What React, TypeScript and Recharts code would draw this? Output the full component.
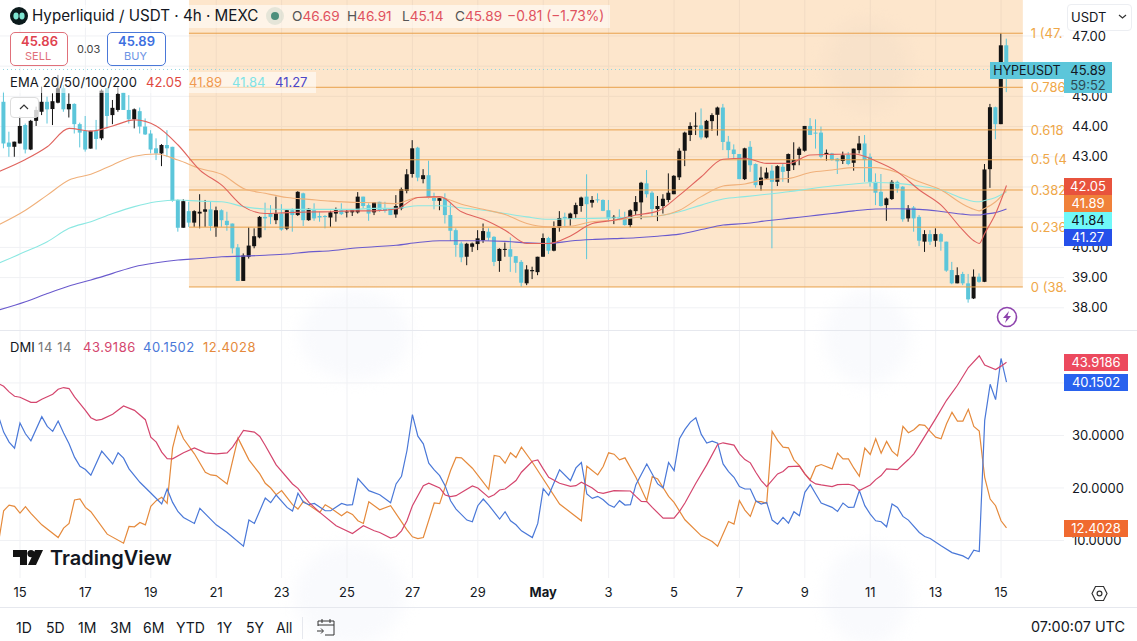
import React from "react";
import { ComposedChart, Bar, Line, XAxis, YAxis, CartesianGrid, ReferenceArea, ReferenceLine } from "recharts";

// one row per 4h candle, open / high / low / close, first row is index -3
const ohlc = [
  [44.82,45.15,43.28,43.44],[43.47,43.83,43.0,43.33],[43.33,43.5,43.0,43.5],[43.44,44.33,43.44,44.02],[44.05,44.1,43.11,43.24],[43.24,44.22,43.22,44.19],
  [44.19,44.66,44.02,44.55],[44.49,45.32,44.38,44.82],[44.82,44.99,44.1,44.57],[44.58,45.1,44.05,44.84],[44.79,45.71,44.77,45.27],[45.27,45.38,44.49,44.57],
  [44.57,45.1,44.3,44.75],[44.75,44.77,43.77,44.08],[44.08,44.13,43.31,43.8],[43.86,44.35,43.17,43.24],[43.27,43.86,43.27,43.86],[43.85,44.22,43.24,43.59],
  [43.61,45.23,43.55,45.19],[45.27,45.27,43.94,44.35],[44.38,44.88,44.08,44.62],[44.55,45.3,44.49,45.08],[45.12,45.12,44.55,44.55],[44.55,45.04,44.1,44.24],
  [44.24,44.6,43.94,44.57],[44.51,44.63,43.77,44.0],[44.0,44.27,43.72,43.74],[43.77,43.88,43.11,43.24],[43.28,43.61,42.89,43.11],[43.11,43.42,42.69,43.39],
  [43.39,43.88,43.0,43.28],[43.33,43.33,41.51,41.54],[41.57,41.59,40.52,40.65],[40.65,41.59,40.65,41.53],[41.2,41.51,40.68,40.82],[40.82,41.23,40.68,41.2],
  [41.12,41.76,40.63,41.18],[41.18,41.57,40.68,41.26],[41.26,41.51,40.55,40.71],[40.66,41.35,40.35,41.23],[41.23,41.26,40.68,40.9],[40.88,41.18,40.55,40.74],
  [40.79,40.79,39.8,39.97],[40.0,40.11,38.89,38.89],[38.89,39.8,38.89,39.73],[39.69,40.66,39.63,40.06],[40.04,40.63,39.97,40.37],[40.33,41.04,40.3,41.01],
  [41.01,41.48,40.57,40.96],[41.12,41.4,40.77,41.01],[40.9,41.68,40.77,41.12],[41.12,41.43,40.55,40.59],[40.62,41.26,40.57,41.23],[41.23,41.29,40.52,41.07],
  [41.07,41.86,41.04,41.84],[41.79,41.81,40.71,40.9],[40.9,41.29,40.88,41.28],[41.23,41.46,40.88,40.96],[41.04,41.18,40.85,40.99],[41.04,41.07,40.63,41.01],
  [40.99,41.21,40.68,41.16],[41.12,41.32,40.85,41.23],[41.23,41.46,41.07,41.1],[41.16,41.26,40.99,41.19],[41.16,41.26,41.04,41.23],[41.16,41.83,41.12,41.68],
  [41.68,41.68,41.29,41.37],[41.4,41.46,40.88,41.12],[41.16,41.49,41.07,41.49],[41.51,41.51,41.18,41.23],[41.29,41.51,41.15,41.21],[41.29,41.29,41.07,41.07],
  [41.09,41.73,40.98,41.37],[41.29,41.98,41.23,41.93],[41.87,42.59,41.79,42.42],[42.43,43.55,42.31,43.28],[43.3,43.33,42.19,42.31],[42.26,42.59,42.12,42.39],
  [42.39,42.87,41.62,41.65],[41.65,41.81,41.26,41.54],[41.54,41.65,41.23,41.63],[41.63,41.79,40.79,41.07],[41.07,41.46,40.21,40.55],[40.57,40.63,39.69,40.08],
  [40.13,40.19,39.51,39.67],[39.69,40.15,39.41,40.12],[40.02,40.16,39.85,40.13],[40.11,40.57,39.91,40.3],[40.24,40.79,40.15,40.54],[40.52,40.63,40.22,40.32],
  [40.35,40.37,39.38,39.52],[39.55,39.97,39.19,39.95],[39.93,40.16,39.69,39.95],[39.94,40.33,39.19,39.69],[39.71,39.71,39.16,39.49],[39.52,39.58,38.7,38.83],
  [38.81,39.41,38.75,39.27],[39.21,39.36,38.95,39.25],[39.18,39.69,39.08,39.69],[39.69,40.46,39.69,40.31],[40.31,40.35,39.78,39.89],[39.89,40.86,39.87,40.65],
  [40.65,41.2,40.52,40.97],[41.01,41.15,40.7,40.96],[40.94,41.15,40.72,41.12],[41.1,41.48,40.98,41.4],[41.37,41.68,41.18,41.65],[41.68,42.42,39.61,41.43],
  [41.48,41.7,41.32,41.57],[41.59,41.79,41.48,41.57],[41.57,41.59,41.2,41.21],[41.23,41.57,40.85,40.96],[40.99,41.07,40.77,41.01],[41.01,41.26,40.9,40.95],
  [40.99,41.18,40.72,40.74],[40.74,41.26,40.66,41.23],[41.2,41.7,41.07,41.5],[41.49,42.17,40.93,42.14],[42.12,42.56,41.65,41.76],[41.81,41.86,41.01,41.27],
  [41.27,41.7,40.87,41.37],[41.37,41.76,41.12,41.61],[41.57,42.45,41.49,41.81],[41.76,42.39,41.76,42.37],[42.32,43.28,42.23,43.2],[43.2,43.83,42.69,43.8],
  [43.72,44.14,43.52,44.02],[44.0,44.47,43.72,44.03],[44.04,44.6,43.57,43.64],[43.64,44.22,43.61,44.19],[44.18,44.44,43.86,44.38],[44.39,44.66,43.7,44.63],
  [44.63,44.75,43.22,43.49],[43.5,43.69,42.95,43.22],[43.24,43.41,42.95,43.09],[43.09,43.09,42.26,42.26],[42.26,43.3,42.23,43.28],[43.33,43.52,42.5,42.72],
  [42.76,42.78,41.98,42.06],[42.06,42.67,41.88,42.31],[42.28,42.64,42.25,42.48],[42.54,42.72,39.97,42.17],[42.17,42.72,42.03,42.69],[42.67,42.78,42.17,42.5],
  [42.53,43.11,42.14,43.09],[42.72,43.48,42.56,42.89],[43.06,43.33,42.72,43.27],[43.2,44.02,43.17,44.02],[44.02,44.28,43.72,43.72],[43.8,44.24,43.27,43.77],
  [43.8,44.0,42.95,43.0],[43.09,43.24,42.87,43.13],[43.11,43.13,42.87,42.89],[42.94,42.96,42.43,42.85],[42.86,43.17,42.76,43.05],[43.06,43.16,42.72,42.76],
  [42.8,43.27,42.54,43.27],[43.22,43.69,43.11,43.44],[43.44,43.72,42.17,42.89],[43.0,43.11,42.01,42.17],[42.17,42.45,41.4,41.81],[41.84,42.43,41.35,41.37],
  [41.4,41.65,40.88,41.62],[41.6,42.23,41.57,42.17],[42.17,42.21,41.81,41.95],[42.01,42.03,40.85,40.93],[40.96,41.4,40.85,41.29],[41.32,41.37,40.52,40.96],
  [41.01,41.07,40.04,40.22],[40.19,40.57,39.85,40.44],[40.44,40.57,40.08,40.19],[40.22,40.63,40.02,40.44],[40.44,40.48,39.89,40.19],[40.19,40.19,39.19,39.23],
  [39.25,39.52,38.78,38.81],[38.81,39.34,38.81,39.08],[39.12,39.19,38.75,38.81],[38.81,39.12,38.17,38.28],[38.31,39.27,38.29,39.03],[39.03,39.14,38.83,38.86],
  [38.86,42.76,38.85,42.58],[42.59,44.75,41.97,44.64],[44.64,44.66,43.58,44.08],[44.08,47.09,44.08,46.69],[46.69,46.91,45.14,45.89],
];

const emaIdx = [-4,1,5,9,13,17,21,25,29,33,37,41,45,49,53,57,61,65,69,73,77,81,85,89,93,97,101,105,109,113,117,121,125,129,133,137,141,145,149,153,157,161,165,169,173,175,176,177,179,181];
const ema20 = [42.5,42.91,43.33,43.94,43.85,44.02,44.22,44.02,43.39,42.56,42.06,41.35,41.12,41.15,41.17,41.18,41.21,41.21,41.27,41.65,41.68,41.18,40.93,40.57,40.13,40.13,40.38,40.79,40.9,41.07,41.2,41.73,42.34,42.92,42.95,42.78,42.78,43.06,43.08,43.09,42.86,42.5,41.9,41.4,40.57,40.22,40.13,40.46,41.12,42.05];
const ema50 = [40.74,41.23,41.73,42.23,42.42,42.73,43.02,43.09,42.89,42.61,42.42,41.95,41.79,41.65,41.59,41.53,41.49,41.48,41.45,41.65,41.65,41.43,41.26,41.09,40.79,40.68,40.7,40.85,40.9,40.99,41.04,41.23,41.68,42.03,42.1,42.25,42.28,42.48,42.56,42.64,42.64,42.48,42.17,41.9,41.43,41.26,41.21,41.29,41.51,41.89];
const ema100 = [39.47,39.86,40.19,40.63,40.85,41.12,41.35,41.51,41.57,41.53,41.51,41.35,41.27,41.26,41.26,41.26,41.26,41.29,41.29,41.38,41.38,41.31,41.23,41.12,41.01,40.93,40.95,40.96,40.98,40.99,41.04,41.18,41.4,41.6,41.68,41.76,41.84,41.94,42.03,42.1,42.15,42.12,42.03,41.9,41.62,41.52,41.51,41.55,41.65,41.84];
const ema200 = [37.92,38.2,38.47,38.72,38.92,39.14,39.36,39.49,39.58,39.63,39.69,39.71,39.74,39.78,39.85,39.89,39.97,40.02,40.07,40.16,40.22,40.22,40.22,40.2,40.15,40.13,40.21,40.26,40.29,40.32,40.37,40.44,40.59,40.74,40.79,40.88,40.96,41.04,41.12,41.21,41.27,41.28,41.26,41.19,41.1,41.07,41.07,41.1,41.15,41.27];

// DMI vertices as [candle index, value]
const adx = [[-4,39.88],[-3,39.37],[-2,38.29],[-1,37.46],[0,37.27],[2,36.31],[3,36.31],[4,36.89],[6,37.84],[7,38.8],[8,39.12],[9,38.93],[10,37.33],[12,34.78],[13,33.38],[14,32.87],[15,33.06],[17,34.02],[19,35.61],[21,34.78],[23,33.0],[24,29.68],[25,28.73],[26,26.82],[27,25.6],[28,25.54],[30,26.69],[32,27.64],[34,26.69],[36,26.5],[38,26.69],[39,27.77],[41,30.96],[43,30.64],[44,29.81],[45,28.09],[47,24.39],[50,20.76],[51,19.93],[53,17.25],[55,15.34],[58,12.79],[61,11.33],[63,12.79],[65,11.84],[66,11.52],[68,10.44],[69,10.75],[70,11.84],[71,13.75],[72,16.62],[74,20.44],[75,20.89],[77,19.99],[78,18.66],[79,18.34],[80,18.53],[83,20.38],[84,19.99],[86,18.21],[87,18.72],[88,19.61],[89,19.8],[91,21.4],[92,22.99],[94,25.09],[95,25.35],[96,23.63],[97,22.03],[99,20.89],[101,20.31],[102,20.44],[103,21.08],[105,19.99],[106,19.17],[107,18.97],[109,19.49],[112,19.42],[113,18.4],[114,17.45],[115,17.38],[116,16.3],[118,14.26],[120,14.26],[121,15.53],[122,17.13],[124,20.89],[126,24.39],[128,28.28],[129,28.6],[131,28.15],[132,26.5],[133,25.41],[134,24.78],[135,22.99],[136,21.4],[137,20.25],[139,22.67],[140,23.12],[141,24.07],[143,24.14],[144,22.67],[145,21.4],[146,20.76],[147,20.57],[149,20.25],[150,20.63],[152,20.7],[153,20.44],[154,19.49],[156,20.57],[157,21.59],[158,22.35],[159,23.63],[161,23.5],[163,25.41],[164,26.5],[166,29.81],[168,33.19],[170,36.69],[172,39.56],[174,42.94],[176,45.17],[177,43.39],[179,42.56],[180,43.2],[181,43.92]];
const diPlus = [[-4,33.83],[-3,30.64],[-2,28.73],[-1,27.58],[0,32.36],[1,30.32],[2,28.98],[4,33.57],[5,31.72],[6,30.77],[7,32.74],[8,30.45],[9,28.41],[10,25.86],[11,24.14],[12,23.5],[13,22.42],[15,27.0],[17,24.58],[18,26.69],[19,25.67],[20,23.63],[22,21.08],[24,19.04],[26,16.94],[27,19.8],[28,17.25],[29,15.47],[30,14.39],[32,13.24],[33,16.11],[36,12.98],[38,11.52],[41,8.9],[42,13.88],[43,13.24],[45,18.08],[46,17.19],[47,18.66],[49,16.3],[50,15.6],[51,18.98],[52,17.25],[53,16.81],[54,17.06],[56,15.66],[57,15.66],[59,17.06],[60,16.74],[61,16.81],[62,21.78],[64,19.49],[66,18.72],[68,17.19],[69,20.76],[70,22.23],[71,27.13],[72,33.95],[73,29.87],[74,28.41],[75,24.71],[76,23.44],[77,22.35],[78,20.44],[79,17.57],[80,15.98],[82,13.88],[83,13.56],[84,16.62],[85,17.89],[86,16.74],[88,14.07],[89,15.47],[90,13.75],[91,12.98],[92,11.84],[94,10.56],[95,13.24],[96,19.87],[97,18.59],[99,23.44],[101,21.4],[102,23.82],[103,24.84],[104,18.85],[105,18.02],[106,18.4],[107,17.76],[108,16.81],[109,16.3],[110,17.57],[111,16.74],[112,16.81],[113,20.63],[115,24.58],[116,22.67],[117,20.76],[118,19.99],[119,24.84],[120,23.31],[121,29.36],[122,31.15],[123,32.55],[124,33.38],[125,30.19],[126,28.54],[127,28.92],[128,28.54],[129,24.58],[130,23.12],[131,22.03],[132,20.25],[133,19.8],[134,19.8],[135,17.57],[136,16.94],[137,17.25],[138,13.88],[139,13.11],[140,14.39],[141,13.3],[142,15.47],[143,14.7],[144,19.17],[145,20.63],[146,18.85],[147,17.13],[149,16.3],[150,15.53],[151,17.13],[152,16.3],[153,16.36],[154,19.49],[155,16.62],[156,15.02],[157,13.75],[158,13.56],[159,12.6],[160,16.94],[161,16.3],[162,14.58],[163,13.88],[165,11.52],[166,10.75],[167,10.37],[169,8.97],[171,7.69],[173,7.06],[174,6.48],[175,8.14],[176,7.88],[177,32.87],[178,39.75],[179,36.82],[180,44.66],[181,40.15]];
const diMinus = [[-4,9.29],[-3,15.66],[-2,16.74],[-1,16.49],[0,15.21],[1,16.43],[2,15.15],[4,12.98],[7,10.56],[8,12.35],[9,13.24],[10,17.7],[11,17.89],[12,16.3],[13,15.47],[16,11.2],[19,9.48],[20,12.66],[21,12.6],[22,13.43],[23,12.98],[24,16.49],[25,17.57],[26,18.21],[27,17.06],[28,27.64],[29,31.79],[30,29.36],[32,26.5],[34,22.99],[35,22.48],[36,22.35],[38,20.76],[40,29.49],[42,25.35],[44,22.67],[45,20.89],[46,19.99],[47,18.72],[48,19.49],[50,16.81],[51,15.98],[52,17.45],[55,15.34],[56,16.81],[57,16.17],[59,14.7],[60,15.47],[61,14.96],[62,13.75],[63,13.24],[64,17.38],[66,15.85],[68,16.62],[71,12.03],[72,10.69],[73,10.37],[74,10.56],[76,17.13],[77,17.0],[79,23.31],[80,25.8],[81,25.73],[83,23.76],[86,19.74],[87,26.18],[88,25.99],[89,24.71],[90,26.69],[91,25.8],[92,27.77],[94,24.9],[99,16.94],[103,13.75],[104,24.14],[106,22.48],[107,24.07],[108,26.69],[109,26.43],[110,25.35],[111,25.73],[113,22.03],[115,17.57],[116,22.16],[117,21.72],[119,18.4],[120,17.25],[122,13.94],[125,10.88],[127,9.8],[128,8.9],[130,13.62],[131,13.11],[132,17.57],[133,15.79],[134,14.58],[135,17.45],[136,17.38],[137,17.06],[138,30.77],[139,29.05],[140,27.77],[141,27.64],[142,25.35],[143,24.27],[144,22.67],[145,21.59],[146,24.07],[147,24.46],[149,23.63],[150,26.62],[151,25.54],[152,25.54],[153,23.76],[154,22.23],[155,27.58],[156,26.37],[157,29.36],[158,26.62],[159,28.86],[160,27.01],[161,26.11],[162,31.72],[163,30.51],[164,31.09],[165,32.04],[166,31.91],[167,30.77],[168,29.68],[169,29.36],[170,32.23],[171,34.4],[172,32.74],[173,32.74],[174,34.97],[175,31.72],[176,30.83],[177,22.03],[178,17.89],[179,16.62],[180,13.75],[181,12.4]];

const dayTicks = [0,12,24,36,48,60,72,84,96,108,120,132,144,156,168,180];
const dayLabels = ["15","17","19","21","23","25","27","29","May","3","5","7","9","11","13","15"];
const priceGrid = [38,39,40,41,42,43,44,45,46,47];
const priceTicks = [38,39,40,43,44,45,47];
const dmiGrid = [10,20,30,40];
const dmiTicks = [10,20,30];
const fibPrices = [47.09,45.3,43.89,42.9,41.9,40.67,38.69];
const fibLabels = ["1 (47.","0.786","0.618","0.5 (4","0.382","0.236","0 (38."];
const ranges = ["1D","5D","1M","3M","6M","YTD","1Y","5Y","All"];
const rangeLeft = [16,46,78,110,143,176,217,246,276];

const FONT = "Inter, Roboto, sans-serif";
const UP = "#131313";
const DOWN = "#5CC6DA";
const GRID = "#f0f1f4";
const X_DOMAIN: [number, number] = [-3.67, 191.55];

const candleRows = ohlc.map((c, n) => ({ i: n - 3, open: c[0], high: c[1], low: c[2], close: c[3] }));
const priceData: any[] = [{ i: -4 }, ...candleRows].map((r: any) => {
  const k = emaIdx.indexOf(r.i);
  return k < 0 ? r : { ...r, e20: ema20[k], e50: ema50[k], e100: ema100[k], e200: ema200[k] };
});

const dmiData: any[] = [];
for (let i = -4; i <= 181; i++) {
  const a = adx.find((p) => p[0] === i);
  const b = diPlus.find((p) => p[0] === i);
  const c = diMinus.find((p) => p[0] === i);
  dmiData.push({ i, adx: a ? a[1] : null, plus: b ? b[1] : null, minus: c ? c[1] : null });
}

function Candle(props: any) {
  const { x, y, width, height, payload } = props;
  if (!payload || payload.open == null) return null;
  const { open, high, low, close } = payload;
  const h = Math.abs(height);
  const top = Math.min(y, y + height);
  const at = (v: number) => top + ((high - v) / (high - low || 1)) * h;
  const color = close >= open ? UP : DOWN;
  const cx = x + width / 2;
  const bodyTop = at(Math.max(open, close));
  const bodyH = Math.max(at(Math.min(open, close)) - bodyTop, 1);
  return (
    <g>
      <line x1={cx} x2={cx} y1={top} y2={top + h} stroke={color} strokeWidth={1} />
      <rect x={cx - 2} y={bodyTop} width={4} height={bodyH} fill={color} />
    </g>
  );
}

function DayTick({ x, y, payload }: any) {
  const label = dayLabels[dayTicks.indexOf(payload.value)];
  return (
    <text x={x} y={y + 11} textAnchor="middle" fontSize={13} fontWeight={label === "May" ? 700 : 400} fill="#131722" fontFamily={FONT}>
      {label}
    </text>
  );
}

function T({ x, y, c = "#131722", s = 13, w = 400, right, ls, children }: any) {
  // y is the vertical centre of the text
  const pos: any = right != null ? { right } : { left: x };
  return (
    <div style={{ position: "absolute", ...pos, top: y - 10, height: 20, lineHeight: "20px", fontSize: s, fontWeight: w, color: c, letterSpacing: ls, whiteSpace: "nowrap" }}>
      {children}
    </div>
  );
}

function Badge({ top, w, h = 17, bg, c = "#fff", children }: any) {
  return (
    <div style={{ position: "absolute", left: 1064, top, width: w, height: h, lineHeight: h + "px", background: bg, color: c, fontSize: 13, textAlign: "center" }}>
      {children}
    </div>
  );
}

function Blob({ x, y, w, h }: any) {
  return <div style={{ position: "absolute", left: x, top: y, width: w, height: h, borderRadius: "50%", background: "#f9fafd", filter: "blur(8px)" }} />;
}

export default function App() {
  return (
    <div style={{ position: "absolute", left: 0, top: 0, width: 1137, height: 641, overflow: "hidden", background: "#fff", fontFamily: FONT }}>
      {/* faint watermark shapes behind the panes */}
      <Blob x={300} y={290} w={110} h={90} />
      <Blob x={295} y={545} w={110} h={100} />
      <Blob x={825} y={290} w={85} h={95} />
      <Blob x={825} y={545} w={85} h={100} />
      <Blob x={825} y={20} w={85} h={90} />

      <div style={{ position: "absolute", left: 0, top: 0 }}>
        <ComposedChart width={1137} height={330} data={priceData} margin={{ top: 0, right: 0, bottom: 0, left: 0 }}>
          <CartesianGrid stroke={GRID} horizontalValues={priceGrid} verticalValues={dayTicks} />
          <XAxis type="number" dataKey="i" domain={X_DOMAIN} allowDataOverflow ticks={dayTicks} hide />
          <YAxis
            orientation="right"
            width={73}
            domain={[37.265, 48.19]}
            allowDataOverflow
            ticks={priceTicks}
            interval={0}
            axisLine={false}
            tickLine={false}
            tickSize={0}
            tickMargin={8}
            tickFormatter={(v: number) => v.toFixed(2)}
            tick={{ fontSize: 13, fill: "#131722" }}
          />
          <ReferenceArea x1={31} x2={184} y1={38.69} y2={48.19} fill="#F9A441" fillOpacity={0.27} stroke="none" ifOverflow="visible" />
          {fibPrices.map((p, k) => (
            <ReferenceLine
              key={p}
              segment={[{ x: 31, y: p }, { x: 184, y: p }]}
              stroke="#E8A04A"
              strokeWidth={1}
              ifOverflow="visible"
              label={{ value: fibLabels[k], position: "right", fill: "#EFA748", fontSize: 13, offset: 8 }}
            />
          ))}
          <ReferenceLine y={45.89} stroke="#8fd3df" strokeDasharray="1 3" />
          <Bar dataKey={(d: any) => (d.open == null ? null : [d.low, d.high])} barSize={5} shape={<Candle />} isAnimationActive={false} />
          <Line dataKey="e200" type="monotone" stroke="#6A5ACD" strokeWidth={1.1} dot={false} connectNulls isAnimationActive={false} />
          <Line dataKey="e100" type="monotone" stroke="#8CE8E2" strokeWidth={1.1} dot={false} connectNulls isAnimationActive={false} />
          <Line dataKey="e50" type="monotone" stroke="#F0B07A" strokeWidth={1.1} dot={false} connectNulls isAnimationActive={false} />
          <Line dataKey="e20" type="monotone" stroke="#E0645E" strokeWidth={1.1} dot={false} connectNulls isAnimationActive={false} />
        </ComposedChart>
      </div>

      <div style={{ position: "absolute", left: 0, top: 330 }}>
        <ComposedChart width={1137} height={277} data={dmiData} margin={{ top: 0, right: 0, bottom: 0, left: 0 }}>
          <CartesianGrid stroke={GRID} horizontalValues={dmiGrid} verticalValues={dayTicks} />
          <XAxis
            type="number"
            dataKey="i"
            domain={X_DOMAIN}
            allowDataOverflow
            ticks={dayTicks}
            interval={0}
            height={29}
            axisLine={false}
            tickLine={false}
            tick={<DayTick />}
          />
          <YAxis
            orientation="right"
            width={73}
            domain={[2.85, 50.08]}
            allowDataOverflow
            ticks={dmiTicks}
            interval={0}
            axisLine={false}
            tickLine={false}
            tickSize={0}
            tickMargin={8}
            tickFormatter={(v: number) => v.toFixed(4)}
            tick={{ fontSize: 13, fill: "#131722" }}
          />
          <Line dataKey="minus" stroke="#E58A3C" strokeWidth={1.2} dot={false} connectNulls isAnimationActive={false} />
          <Line dataKey="plus" stroke="#4A78D8" strokeWidth={1.2} dot={false} connectNulls isAnimationActive={false} />
          <Line dataKey="adx" stroke="#D4466E" strokeWidth={1.2} dot={false} connectNulls isAnimationActive={false} />
        </ComposedChart>
      </div>

      {/* pane separators */}
      <div style={{ position: "absolute", left: 0, top: 330, width: 1137, height: 1, background: "#e6e8ee" }} />
      <div style={{ position: "absolute", left: 0, top: 607, width: 1137, height: 1, background: "#e6e8ee" }} />

      {/* header legend */}
      <div style={{ position: "absolute", left: 0, top: 5, width: 610, height: 23, background: "rgba(255,255,255,0.55)" }} />
      <svg style={{ position: "absolute", left: 10, top: 7 }} width={18} height={18}>
        <circle cx={9} cy={9} r={9} fill="#0b1a1c" />
        <ellipse cx={6} cy={9} rx={2.6} ry={3.4} fill="#7fe6d2" />
        <ellipse cx={12} cy={9} rx={2.6} ry={3.4} fill="#7fe6d2" />
      </svg>
      <T x={32} y={16} s={15.2}>Hyperliquid / USDT · 4h · MEXC</T>
      <div style={{ position: "absolute", left: 266, top: 7, width: 18, height: 18, borderRadius: 9, background: "rgba(90,150,130,0.15)" }} />
      <div style={{ position: "absolute", left: 271, top: 12, width: 8, height: 8, borderRadius: 4, background: "#4d8f7c" }} />
      <T x={292} y={16} s={13.6} c="#555"><span>O</span><span style={{ color: "#E0525F" }}>46.69</span></T>
      <T x={347} y={16} s={13.6} c="#555"><span>H</span><span style={{ color: "#E0525F" }}>46.91</span></T>
      <T x={402} y={16} s={13.6} c="#555"><span>L</span><span style={{ color: "#E0525F" }}>45.14</span></T>
      <T x={455} y={16} s={13.6} c="#555"><span>C</span><span style={{ color: "#E0525F" }}>45.89</span></T>
      <T x={507} y={16} s={13.8} c="#E0525F">−0.81 (−1.73%)</T>

      {/* sell / buy */}
      <div style={{ position: "absolute", left: 10, top: 32, width: 56, height: 32, border: "1px solid #E0707A", borderRadius: 5, background: "#fff" }} />
      <T x={21} y={41} c="#E0424F" w={600}>45.86</T>
      <T x={25} y={56} c="#E0707A" s={11}>SELL</T>
      <T x={77} y={49} c="#444" s={11}>0.03</T>
      <div style={{ position: "absolute", left: 107, top: 32, width: 57, height: 32, border: "1px solid #4A78D8", borderRadius: 5, background: "#fff" }} />
      <T x={118} y={41} c="#3D6FE0" w={600}>45.89</T>
      <T x={124} y={56} c="#6C93E4" s={11}>BUY</T>

      {/* EMA legend */}
      <div style={{ position: "absolute", left: 0, top: 72, width: 316, height: 21, background: "rgba(255,255,255,0.55)" }} />
      <T x={10} y={82} ls={0.15}>EMA 20/50/100/200</T>
      <T x={146} y={82} c="#E0483E">42.05</T>
      <T x={189} y={82} c="#F09A50">41.89</T>
      <T x={232} y={82} c="#7FE3E6">41.84</T>
      <T x={275} y={82} c="#4B46C8">41.27</T>
      <div style={{ position: "absolute", left: 10, top: 97, width: 27, height: 19, border: "1px solid #ddd", borderRadius: 4, background: "rgba(255,255,255,0.8)" }} />
      <svg style={{ position: "absolute", left: 18, top: 103 }} width={12} height={8}>
        <path d="M2 6 L6 2 L10 6" fill="none" stroke="#333" strokeWidth={1.2} />
      </svg>

      {/* price tags */}
      <div style={{ position: "absolute", left: 990, top: 62, width: 74, height: 17, lineHeight: "17px", background: DOWN, color: "#131722", fontSize: 12.5, textAlign: "center" }}>HYPEUSDT</div>
      <Badge top={62} w={48} h={31} bg={DOWN} c="#131722">
        <div style={{ lineHeight: "15px", paddingTop: 1 }}>45.89</div>
        <div style={{ lineHeight: "14px", color: "#2c4a55" }}>59:52</div>
      </Badge>
      <Badge top={178} w={48} bg="#E8533D">42.05</Badge>
      <Badge top={195} w={48} bg="#F0813A">41.89</Badge>
      <Badge top={212} w={48} bg="#6FF8F8" c="#131722">41.84</Badge>
      <Badge top={229} w={48} bg="#2550EA">41.27</Badge>

      <div style={{ position: "absolute", left: 1067, top: 4, width: 63, height: 25, border: "1px solid #eceef2", borderRadius: 4, background: "#fff" }} />
      <T x={1071} y={17} s={13}>USDT</T>
      <svg style={{ position: "absolute", left: 1118, top: 13 }} width={9} height={7}>
        <path d="M1 2 L4.5 5 L8 2" fill="none" stroke="#333" strokeWidth={1.2} />
      </svg>

      <svg style={{ position: "absolute", left: 996, top: 306 }} width={22} height={22}>
        <circle cx={11} cy={11} r={9.5} fill="#fff" stroke="#8E44AD" strokeWidth={1.6} />
        <path d="M13 5 L7 12 H10.5 L9 17 L15 10 H11.5 Z" fill="#8E44AD" />
      </svg>

      {/* DMI legend */}
      <T x={10} y={347}>DMI</T>
      <T x={38} y={347} c="#777" ls={0.6}>14 14</T>
      <T x={83} y={347} c="#D4466E" ls={0.5}>43.9186</T>
      <T x={143} y={347} c="#4A78D8" ls={0.5}>40.1502</T>
      <T x={203} y={347} c="#E58A3C" ls={0.5}>12.4028</T>
      <Badge top={354} w={64} bg="#EC4A5E">43.9186</Badge>
      <Badge top={374} w={64} bg="#2962EE">40.1502</Badge>
      <Badge top={520} w={64} bg="#F06A30">12.4028</Badge>

      {/* TradingView mark */}
      <svg style={{ position: "absolute", left: 13, top: 550 }} width={30} height={16}>
        <path d="M0 0h14v15H7V7H0z" fill="#131313" />
        <circle cx={18} cy={3.6} r={3.6} fill="#131313" />
        <path d="M22 0h8l-7 15h-8z" fill="#131313" />
      </svg>
      <T x={50} y={558} s={20} w={600}>TradingView</T>

      <svg style={{ position: "absolute", left: 1091, top: 585 }} width={17} height={17}>
        <path d="M4.5 1.5h8L16 8.5l-3.5 7h-8L1 8.5z" fill="none" stroke="#333" strokeWidth={1.2} />
        <circle cx={8.5} cy={8.5} r={2.4} fill="none" stroke="#333" strokeWidth={1.2} />
      </svg>

      {/* bottom bar */}
      {ranges.map((r, k) => (
        <T key={r} x={rangeLeft[k]} y={628} s={14}>{r}</T>
      ))}
      <div style={{ position: "absolute", left: 302, top: 617, width: 1, height: 22, background: "#e6e8ee" }} />
      <svg style={{ position: "absolute", left: 316, top: 617 }} width={20} height={20}>
        <path d="M2 9V4h16v14H9M2 8h16M6 2v4M14 2v4M1 14h6M5 11.5 7.5 14 5 16.5" fill="none" stroke="#333" strokeWidth={1} />
      </svg>
      <T right={12} y={627} s={14.4}>07:00:07 UTC</T>
    </div>
  );
}
